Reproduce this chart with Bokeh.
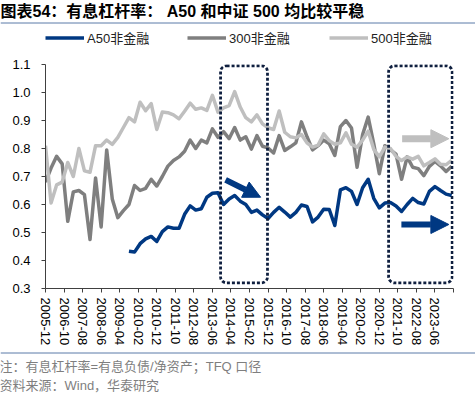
from bokeh.plotting import figure
from bokeh.models import (Range1d, FixedTicker, PrintfTickFormatter, Legend, LegendItem,
                          BoxAnnotation, Arrow, NormalHead)
from bokeh.layouts import column
from bokeh.embed import file_html
from bokeh.resources import INLINE
from bokeh.core.properties import value

# ---------------- data ----------------
title_text = "图表54：有息杠杆率： A50 和中证 500 均比较平稳"
note_text = "注：有息杠杆率=有息负债/净资产；TFQ 口径"
source_text = "资料来源：Wind，华泰研究"

series_names = ["A50非金融", "300非金融", "500非金融"]

# quarterly observations starting 2005-12 (index 0)
n_quarters = 74
a50_first_quarter = 15   # A50 series starts 2009-09

lev_500 = [0.81, 0.605, 0.67, 0.68, 0.75, 0.70, 0.80, 0.72, 0.715, 0.81,
           0.81, 0.83, 0.815, 0.84, 0.875, 0.91, 0.895, 0.965, 0.935, 0.96,
           0.868, 0.93, 0.928, 0.92, 0.906, 0.933, 0.962, 0.94, 0.945, 0.936,
           0.99, 0.93, 0.945, 0.953, 1.003, 0.948, 0.91, 0.895, 0.92, 0.888,
           0.874, 0.868, 0.934, 0.858, 0.842, 0.838, 0.85, 0.82, 0.805, 0.812,
           0.852, 0.828, 0.815, 0.82, 0.856, 0.815, 0.805, 0.83, 0.862, 0.797,
           0.77, 0.805, 0.80, 0.772, 0.757, 0.77, 0.762, 0.772, 0.738, 0.75,
           0.763, 0.744, 0.742, 0.758]

lev_300 = [0.68, 0.73, 0.772, 0.745, 0.54, 0.645, 0.65, 0.635, 0.475, 0.695,
           0.52, 0.795, 0.62, 0.553, 0.578, 0.60, 0.668, 0.65, 0.658, 0.69,
           0.666, 0.70, 0.737, 0.757, 0.77, 0.79, 0.83, 0.80, 0.83, 0.82,
           0.87, 0.84, 0.86, 0.835, 0.875, 0.83, 0.842, 0.798, 0.846, 0.808,
           0.802, 0.784, 0.846, 0.793, 0.806, 0.82, 0.895, 0.842, 0.795, 0.81,
           0.83, 0.817, 0.775, 0.878, 0.90, 0.873, 0.733, 0.85, 0.912, 0.817,
           0.71, 0.81, 0.795, 0.78, 0.69, 0.77, 0.733, 0.728, 0.703, 0.736,
           0.754, 0.738, 0.718, 0.737]

lev_a50 = [0.433, 0.43, 0.46, 0.477, 0.486, 0.468, 0.503, 0.52, 0.515, 0.515,
           0.565, 0.595, 0.58, 0.585, 0.626, 0.64, 0.642, 0.60, 0.62, 0.632,
           0.612, 0.60, 0.572, 0.58, 0.563, 0.55, 0.572, 0.59, 0.573, 0.555,
           0.572, 0.598, 0.593, 0.538, 0.555, 0.583, 0.582, 0.525, 0.652, 0.66,
           0.647, 0.60, 0.66, 0.69, 0.622, 0.588, 0.605, 0.607, 0.595, 0.575,
           0.60, 0.622, 0.607, 0.602, 0.647, 0.664, 0.65, 0.637, 0.632]

x_tick_labels = ["2005-12", "2006-10", "2007-08", "2008-06", "2009-04", "2010-02",
                 "2010-12", "2011-10", "2012-08", "2013-06", "2014-04", "2015-02",
                 "2015-12", "2016-10", "2017-08", "2018-06", "2019-04", "2020-02",
                 "2020-12", "2021-10", "2022-08", "2023-06"]
x_end_label = "2024-04"
y_ticks = [0.3, 0.4, 0.5, 0.6, 0.7, 0.8, 0.9, 1.0, 1.1]


def month_index(s):
    return (int(s[:4]) - 2005) * 12 + int(s[5:]) - 12


months = [3 * i for i in range(n_quarters)]
months_a50 = months[a50_first_quarter:]
tick_pos = [month_index(s) for s in x_tick_labels] + [month_index(x_end_label)]
overrides = {month_index(s): s for s in x_tick_labels}
overrides[month_index(x_end_label)] = ""

# ---------------- styles ----------------
FONT = "Liberation Sans, Noto Sans CJK SC"
C_A50 = "#003882"
C_300 = "#7F7F7F"
C_500 = "#BFBFBF"
C_RULE = "#5A7BA8"
C_BOX = "#0F1F3F"
LW = 3.5
W = 475
H_TOP, H_MAIN, H_BOT = 52, 298, 45


def blank(h):
    f = figure(width=W, height=h, x_range=Range1d(0, W), y_range=Range1d(h, 0),
               x_axis_location=None, y_axis_location=None, toolbar_location=None,
               output_backend="svg", min_border=0, min_border_left=0, min_border_right=0,
               min_border_top=0, min_border_bottom=0, frame_align=False)
    f.grid.visible = False
    f.outline_line_color = None
    return f


# ---------------- top: title, rule, legend ----------------
top = blank(H_TOP)
top.text(x=[0], y=[11], text=[title_text], text_font=value(FONT),
         text_font_size="16px", text_font_style="bold", text_baseline="middle",
         text_color="#000000")
top.line(x=[0, W], y=[22.5, 22.5], line_color=C_RULE, line_width=1)
# legend keys (their own data lies outside this strip's range; only the legend shows them)
off = [-100, -90]
k_a50 = top.line(x=off, y=off, line_color=C_A50, line_width=LW)
k_300 = top.line(x=off, y=off, line_color=C_300, line_width=LW)
k_500 = top.line(x=off, y=off, line_color=C_500, line_width=LW)
legend = Legend(items=[LegendItem(label=series_names[0], renderers=[k_a50]),
                       LegendItem(label=series_names[1], renderers=[k_300]),
                       LegendItem(label=series_names[2], renderers=[k_500])],
                orientation="horizontal", location=(45, H_TOP - 47),
                glyph_width=39, glyph_height=15, label_height=15, label_width=99,
                label_standoff=3, spacing=1, padding=0, margin=0,
                border_line_alpha=0, background_fill_alpha=0,
                label_text_font=FONT, label_text_font_size="13px",
                label_text_color="#222222")
top.add_layout(legend)

# ---------------- main chart ----------------
p = figure(width=W, height=H_MAIN, x_range=Range1d(0, 220), y_range=Range1d(0.3, 1.1),
           toolbar_location=None, output_backend="svg", frame_align=False,
           min_border_left=45, min_border_right=22, min_border_top=12, min_border_bottom=62)
p.grid.visible = False
p.outline_line_color = None

p.line(months_a50, lev_a50, line_color=C_A50, line_width=LW, line_join="round")
p.line(months, lev_300, line_color=C_300, line_width=LW, line_join="round")
p.line(months, lev_500, line_color=C_500, line_width=LW, line_join="round")

for ax in (p.xaxis[0], p.yaxis[0]):
    ax.axis_line_color = "#404040"
    ax.major_tick_line_color = "#404040"
    ax.major_tick_out = 4
    ax.major_tick_in = 0
    ax.minor_tick_line_color = None
    ax.major_label_text_font = "Liberation Sans"
    ax.major_label_text_font_size = "13px"
    ax.major_label_text_color = "#000000"

p.yaxis[0].ticker = FixedTicker(ticks=y_ticks)
p.yaxis[0].formatter = PrintfTickFormatter(format="%.1f")
p.yaxis[0].major_label_standoff = 11

p.xaxis[0].ticker = FixedTicker(ticks=tick_pos)
p.xaxis[0].major_label_overrides = overrides
p.xaxis[0].major_label_orientation = "vertical"
p.xaxis[0].major_label_standoff = 5

# highlight boxes
for left, right in [(94.4, 119.7), (185.0, 219.3)]:
    p.add_layout(BoxAnnotation(left=left, right=right, top=1.0955, bottom=0.32,
                               fill_alpha=0, line_color=C_BOX, line_alpha=1, line_width=2.8,
                               line_dash="3 2", border_radius=6))

# arrows
p.add_layout(Arrow(x_start=97.1, y_start=0.688, x_end=116.0, y_end=0.626,
                   line_color=C_A50, line_width=6,
                   end=NormalHead(size=17, fill_color=C_A50, line_color=C_A50, line_width=1)))
p.add_layout(Arrow(x_start=192.3, y_start=0.835, x_end=217.5, y_end=0.835,
                   line_color=C_500, line_width=7,
                   end=NormalHead(size=18, fill_color=C_500, line_color=C_500, line_width=1)))
p.add_layout(Arrow(x_start=191.9, y_start=0.5286, x_end=217.5, y_end=0.5286,
                   line_color=C_A50, line_width=6,
                   end=NormalHead(size=18, fill_color=C_A50, line_color=C_A50, line_width=1)))

# ---------------- bottom: notes ----------------
bot = blank(H_BOT)
bot.line(x=[0, W], y=[2.5, 2.5], line_color=C_RULE, line_width=1)
bot.text(x=[-1, -1], y=[16, 35], text=[note_text, source_text], text_font=value(FONT),
         text_font_size="13px", text_baseline="middle", text_color="#7F7F7F")

layout = column(top, p, bot, spacing=0)
open("out.html", "w").write(file_html(layout, INLINE))
